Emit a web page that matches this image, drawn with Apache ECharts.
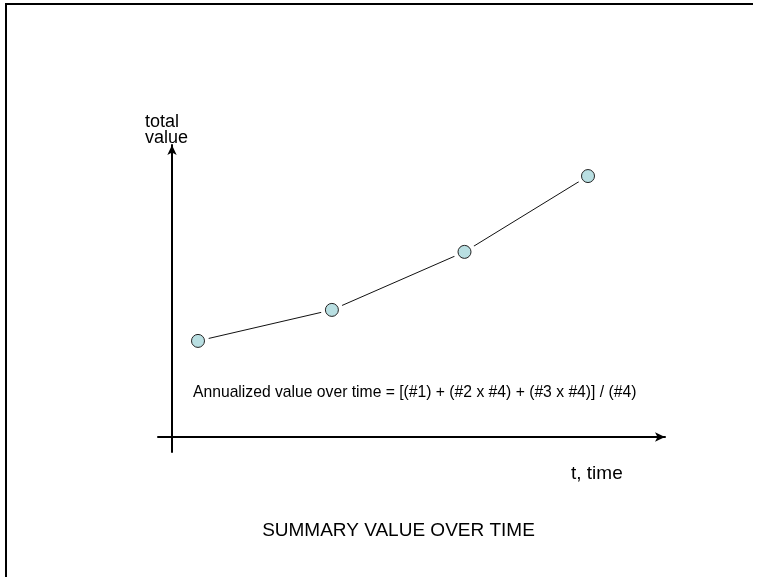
<!DOCTYPE html>
<html>
<head>
<meta charset="utf-8">
<script src="https://cdn.jsdelivr.net/npm/echarts@6/dist/echarts.min.js"></script>
<style>
html,body{margin:0;padding:0;background:#fff;}
#chart{width:762px;height:577px;}
</style>
</head>
<body>
<div id="chart"></div>
<script>
// time positions (arbitrary units) and total values (arbitrary units)
var timeValues = [2, 12.3, 22.5, 32];
var totalValues = [31.3, 41.4, 60.3, 85.0];
var yAxisTitleLines = ['total', 'value'];
var xAxisTitle = 't, time';
var formulaText = 'Annualized value over time = [(#1) + (#2 x #4) + (#3 x #4)] / (#4)';
var chartTitle = 'SUMMARY VALUE OVER TIME';

var points = timeValues.map(function (t, i) { return [t, totalValues[i]]; });

var chart = echarts.init(document.getElementById('chart'), null, {renderer: 'canvas'});
var font = 'Arial, "Liberation Sans", sans-serif';
chart.setOption({
  animation: false,
  backgroundColor: '#fff',
  grid: {left: 158, right: 97, top: 145, bottom: 125, containLabel: false},
  xAxis: {
    type: 'value', min: -14 / 13, max: 493 / 13,
    axisLine: {show: true, onZero: true, lineStyle: {color: '#000', width: 2}, symbol: ['none', 'arrow'], symbolSize: [7, 10]},
    axisTick: {show: false}, axisLabel: {show: false}, splitLine: {show: false}
  },
  yAxis: {
    type: 'value', min: -15 / 3.07, max: 292 / 3.07,
    axisLine: {show: true, onZero: true, lineStyle: {color: '#000', width: 2}, symbol: ['none', 'arrow'], symbolSize: [7, 10]},
    axisTick: {show: false}, axisLabel: {show: false}, splitLine: {show: false}
  },
  series: [
    {
      type: 'line', data: points, symbol: 'none', z: 1,
      lineStyle: {color: '#111', width: 1}
    },
    {
      type: 'scatter', data: points, symbol: 'circle', symbolSize: 22, z: 2,
      itemStyle: {color: '#fff', opacity: 1}, silent: true
    },
    {
      type: 'scatter', data: points, symbol: 'circle', symbolSize: 13, z: 3,
      itemStyle: {color: '#b9dfe2', borderColor: '#222', borderWidth: 1, opacity: 1}
    }
  ],
  graphic: [
    {type: 'line', shape: {x1: 5, y1: 4, x2: 753, y2: 4}, style: {stroke: '#000', lineWidth: 2}},
    {type: 'line', shape: {x1: 6, y1: 3, x2: 6, y2: 577}, style: {stroke: '#000', lineWidth: 2}},
    {type: 'text', style: {x: 145, y: 122, text: yAxisTitleLines[0], font: '18px ' + font, fill: '#000', align: 'left', verticalAlign: 'middle'}},
    {type: 'text', style: {x: 145, y: 138, text: yAxisTitleLines[1], font: '18px ' + font, fill: '#000', align: 'left', verticalAlign: 'middle'}},
    {type: 'text', style: {x: 571, y: 474, text: xAxisTitle, font: '19px ' + font, fill: '#000', align: 'left', verticalAlign: 'middle'}},
    {type: 'text', style: {x: 193, y: 393, text: formulaText, font: '15.7px ' + font, fill: '#000', align: 'left', verticalAlign: 'middle'}},
    {type: 'text', style: {x: 398.5, y: 531, text: chartTitle, font: '19px ' + font, fill: '#000', align: 'center', verticalAlign: 'middle'}}
  ]
});
</script>
</body>
</html>
